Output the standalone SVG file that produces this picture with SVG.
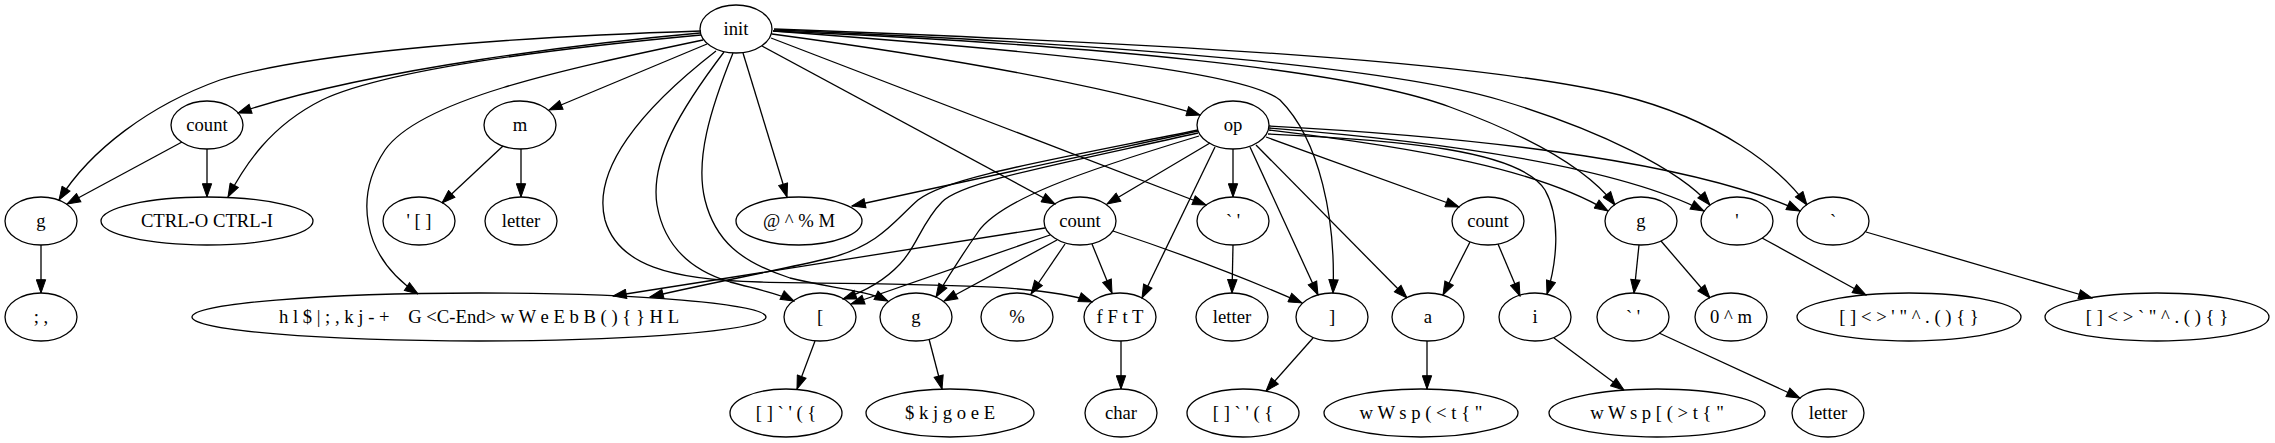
<svg xmlns="http://www.w3.org/2000/svg" width="2275" height="443" viewBox="0 0 2275 443">
<style>
.n ellipse{fill:none;stroke:#000;stroke-width:1.3}
.n text{font-family:"Liberation Serif","Times New Roman",serif;font-size:18.67px;text-anchor:middle;fill:#000}
#edges path{fill:none;stroke:#000;stroke-width:1.3;marker-end:url(#a)}
</style>
<defs>
<marker id="a" markerUnits="userSpaceOnUse" markerWidth="15" markerHeight="11" viewBox="-1 -1 15 11" refX="13.3" refY="4.67" orient="auto">
<path d="M0,0 L13.3,4.67 L0,9.33 z" fill="#000" stroke="#000" stroke-width="1"/>
</marker>
</defs>
<rect width="2275" height="443" fill="#fff"/>
<g id="edges">
<path d="M701,31 C480,38 300,55 220,80 C150,105 90,150 59,200"/>
<path d="M700,33 C600,42 370,68 238,113"/>
<path d="M701,35 C560,48 390,68 322,100 C270,126 245,165 228,197"/>
<path d="M707,44 L549,110"/>
<path d="M703,40 C560,70 420,100 385,150 C355,195 360,255 418,294"/>
<path d="M716,51 C640,110 592,170 605,220 C618,265 670,280 760,282 C900,285 1040,282 1092,302"/>
<path d="M724,52 C680,110 650,160 657,205 C664,245 690,270 730,282 C760,290 780,294 794,301"/>
<path d="M733,53 C710,110 695,160 705,200 C715,240 740,262 790,278 C830,288 865,290 888,301"/>
<path d="M743,53 L787,197"/>
<path d="M762,46 L1055,204"/>
<path d="M771,38 L1206,205"/>
<path d="M772,34 C950,58 1100,85 1200,115"/>
<path d="M773,31 C1000,48 1240,68 1280,100 C1320,140 1336,220 1333,293"/>
<path d="M773,31 C1100,45 1350,70 1450,107 C1540,140 1590,172 1615,205"/>
<path d="M774,30 C1150,45 1400,70 1500,100 C1600,130 1680,170 1710,205"/>
<path d="M774,29 C1200,45 1480,62 1620,95 C1720,120 1780,168 1807,205"/>
<path d="M1198,131 L852,206"/>
<path d="M1198,130 C1040,162 945,178 918,200 C895,220 880,245 830,258 C780,270 700,285 650,297"/>
<path d="M1198,133 C1050,166 962,182 942,202 C922,222 916,248 900,264 C886,279 866,291 843,299"/>
<path d="M1199,136 C1080,172 1000,200 978,232 C962,255 948,277 936,297"/>
<path d="M1215,147 L1142,298"/>
<path d="M1210,143 L1107,204"/>
<path d="M1233,149 L1233,197"/>
<path d="M1250,147 L1318,295"/>
<path d="M1256,145 L1407,298"/>
<path d="M1266,137 L1459,207"/>
<path d="M1268,134 C1400,140 1520,150 1545,190 C1562,220 1556,265 1547,294"/>
<path d="M1269,130 C1420,148 1540,170 1608,211"/>
<path d="M1269,128 C1450,142 1620,168 1704,211"/>
<path d="M1269,126 C1500,138 1700,165 1800,211"/>
<path d="M1045,228 L613,296"/>
<path d="M1050,235 L851,304"/>
<path d="M1057,240 L944,301"/>
<path d="M1065,244 L1031,294"/>
<path d="M1092,244 L1112,293"/>
<path d="M1113,231 C1200,260 1250,280 1302,303"/>
<path d="M182,142 L67,204"/>
<path d="M207,149 L207,197"/>
<path d="M503,146 L442,203"/>
<path d="M521,149 L521,197"/>
<path d="M41,245 L41,293"/>
<path d="M1233,245 L1232,293"/>
<path d="M1470,242 L1443,295"/>
<path d="M1498,244 L1520,296"/>
<path d="M1639,245 L1634,293"/>
<path d="M1661,241 L1710,298"/>
<path d="M1762,238 L1866,295"/>
<path d="M1866,232 L2092,298"/>
<path d="M815,341 L797,389"/>
<path d="M929,339 L942,389"/>
<path d="M1121,341 L1121,389"/>
<path d="M1313,338 L1266,391"/>
<path d="M1427,341 L1427,389"/>
<path d="M1554,338 L1624,390"/>
<path d="M1659,333 L1800,398"/>
</g>
<g id="init" class="n"><ellipse cx="736" cy="29" rx="36" ry="24"/><text x="736" y="35">init</text></g>
<g id="count1" class="n"><ellipse cx="207" cy="125" rx="36" ry="24"/><text x="207" y="131">count</text></g>
<g id="m" class="n"><ellipse cx="520" cy="125" rx="36" ry="24"/><text x="520" y="131">m</text></g>
<g id="op" class="n"><ellipse cx="1233" cy="125" rx="36" ry="24"/><text x="1233" y="131">op</text></g>
<g id="g1" class="n"><ellipse cx="41" cy="221" rx="36" ry="24"/><text x="41" y="227">g</text></g>
<g id="ctrl" class="n"><ellipse cx="207" cy="221" rx="106" ry="24"/><text x="207" y="227">CTRL-O CTRL-I</text></g>
<g id="quoteb" class="n"><ellipse cx="419" cy="221" rx="36" ry="24"/><text x="419" y="227">' [ ]</text></g>
<g id="letter1" class="n"><ellipse cx="521" cy="221" rx="36" ry="24"/><text x="521" y="227">letter</text></g>
<g id="at" class="n"><ellipse cx="799" cy="221" rx="63" ry="24"/><text x="799" y="227">@ ^ % M</text></g>
<g id="count2" class="n"><ellipse cx="1080" cy="221" rx="36" ry="24"/><text x="1080" y="227">count</text></g>
<g id="bq1" class="n"><ellipse cx="1233" cy="221" rx="36" ry="24"/><text x="1233" y="227">` '</text></g>
<g id="count3" class="n"><ellipse cx="1488" cy="221" rx="36" ry="24"/><text x="1488" y="227">count</text></g>
<g id="g2" class="n"><ellipse cx="1641" cy="221" rx="36" ry="24"/><text x="1641" y="227">g</text></g>
<g id="q" class="n"><ellipse cx="1737" cy="221" rx="36" ry="24"/><text x="1737" y="227">'</text></g>
<g id="bt" class="n"><ellipse cx="1833" cy="221" rx="36" ry="24"/><text x="1833" y="227">`</text></g>
<g id="semi" class="n"><ellipse cx="41" cy="317" rx="36" ry="24"/><text x="41" y="323">; ,</text></g>
<g id="hl" class="n"><ellipse cx="479" cy="317" rx="287" ry="24"/><text x="479" y="323" style="white-space:pre">h l $ | ; , k j - +    G &lt;C-End&gt; w W e E b B ( ) { } H L</text></g>
<g id="lb" class="n"><ellipse cx="820" cy="317" rx="36" ry="24"/><text x="820" y="323">[</text></g>
<g id="g3" class="n"><ellipse cx="916" cy="317" rx="36" ry="24"/><text x="916" y="323">g</text></g>
<g id="pct" class="n"><ellipse cx="1017" cy="317" rx="36" ry="24"/><text x="1017" y="323">%</text></g>
<g id="f" class="n"><ellipse cx="1120" cy="317" rx="36" ry="24"/><text x="1120" y="323">f F t T</text></g>
<g id="letter2" class="n"><ellipse cx="1232" cy="317" rx="36" ry="24"/><text x="1232" y="323">letter</text></g>
<g id="rb" class="n"><ellipse cx="1332" cy="317" rx="36" ry="24"/><text x="1332" y="323">]</text></g>
<g id="a_" class="n"><ellipse cx="1428" cy="317" rx="36" ry="24"/><text x="1428" y="323">a</text></g>
<g id="i" class="n"><ellipse cx="1535" cy="317" rx="36" ry="24"/><text x="1535" y="323">i</text></g>
<g id="bq2" class="n"><ellipse cx="1633" cy="317" rx="36" ry="24"/><text x="1633" y="323">` '</text></g>
<g id="zm" class="n"><ellipse cx="1731" cy="317" rx="36" ry="24"/><text x="1731" y="323">0 ^ m</text></g>
<g id="br1" class="n"><ellipse cx="1909" cy="317" rx="112" ry="24"/><text x="1909" y="323">[ ] &lt; &gt; ' &quot; ^ . ( ) { }</text></g>
<g id="br2" class="n"><ellipse cx="2157" cy="317" rx="112" ry="24"/><text x="2157" y="323">[ ] &lt; &gt; ` &quot; ^ . ( ) { }</text></g>
<g id="lbt1" class="n"><ellipse cx="786" cy="413" rx="56" ry="24"/><text x="786" y="419">[ ] ` ' ( {</text></g>
<g id="dollar" class="n"><ellipse cx="950" cy="413" rx="84" ry="24"/><text x="950" y="419">$ k j g o e E</text></g>
<g id="char" class="n"><ellipse cx="1121" cy="413" rx="36" ry="24"/><text x="1121" y="419">char</text></g>
<g id="lbt2" class="n"><ellipse cx="1243" cy="413" rx="56" ry="24"/><text x="1243" y="419">[ ] ` ' ( {</text></g>
<g id="ws1" class="n"><ellipse cx="1421" cy="413" rx="97" ry="24"/><text x="1421" y="419">w W s p ( &lt; t { &quot;</text></g>
<g id="ws2" class="n"><ellipse cx="1657" cy="413" rx="108" ry="24"/><text x="1657" y="419">w W s p [ ( &gt; t { &quot;</text></g>
<g id="letter3" class="n"><ellipse cx="1828" cy="413" rx="36" ry="24"/><text x="1828" y="419">letter</text></g>
</svg>
